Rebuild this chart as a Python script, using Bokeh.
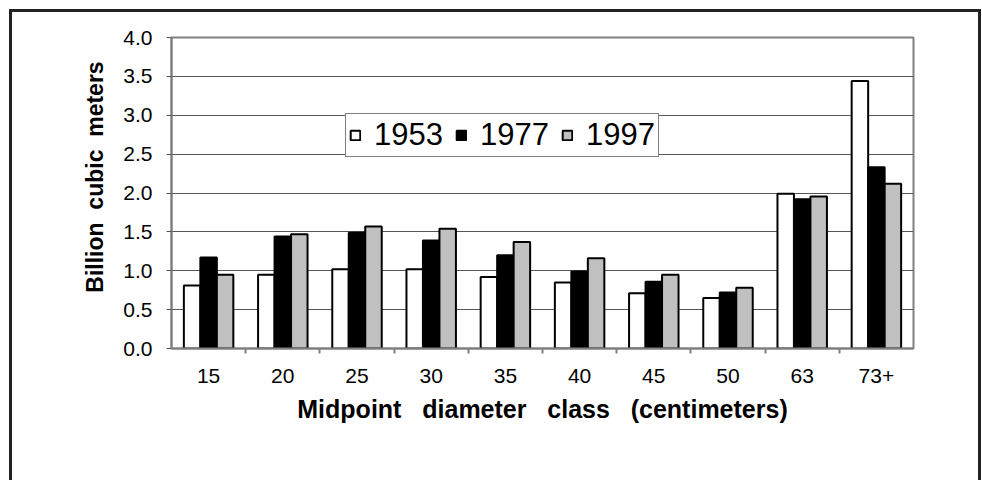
from bokeh.plotting import figure
from bokeh.models import (ColumnDataSource, FixedTicker, Legend, LegendItem, Range1d,
                          NumeralTickFormatter)
from bokeh.transform import dodge
from bokeh.embed import file_html
from bokeh.resources import INLINE

categories = ["15", "20", "25", "30", "35", "40", "45", "50", "63", "73+"]
v1953 = [0.81, 0.95, 1.02, 1.02, 0.92, 0.85, 0.71, 0.65, 1.99, 3.44]
v1977 = [1.17, 1.44, 1.49, 1.39, 1.20, 0.99, 0.86, 0.72, 1.92, 2.33]
v1997 = [0.95, 1.47, 1.57, 1.54, 1.37, 1.16, 0.95, 0.78, 1.955, 2.12]
years = ["1953", "1977", "1997"]
y_ticks = [0.0, 0.5, 1.0, 1.5, 2.0, 2.5, 3.0, 3.5, 4.0]

FONT = "Liberation Sans"
colors = ["white", "black", "#C0C0C0"]
NB = "\u00a0"
SP = " " + NB + NB

pos = [i + 0.5 for i in range(len(categories))]
bounds = [i for i in range(1, len(categories))]
source = ColumnDataSource(dict(pos=pos, cat=categories,
                               v1953=v1953, v1977=v1977, v1997=v1997))

# outer chart border drawn as CSS background lines behind a transparent canvas border
border_css = ("linear-gradient(#222222, #222222) 9px 9px / 3px 100% no-repeat, "
              "linear-gradient(#222222, #222222) 9px 9px / 972px 3px no-repeat, "
              "linear-gradient(#222222, #222222) 978px 9px / 3px 100% no-repeat, "
              "#ffffff")

p = figure(width=981, height=480,
           x_range=Range1d(0, len(categories)), y_range=Range1d(0, 4.0),
           toolbar_location=None, output_backend="svg",
           min_border_left=171, min_border_right=68,
           min_border_top=37, min_border_bottom=132,
           styles={"background": border_css})
p.background_fill_color = "white"
p.border_fill_color = None
p.border_fill_alpha = 0

w = 1 / 4.5
renderers = []
for yr, col, off in zip(years, colors, [-w, 0, w]):
    r = p.vbar(x=dodge("pos", off, range=p.x_range), top="v" + yr, width=w,
               source=source, fill_color=col, line_color="black", line_width=2)
    renderers.append(r)

legend = Legend(items=[LegendItem(label=yr, renderers=[r]) for yr, r in zip(years, renderers)],
                location=(174, 191), orientation="horizontal",
                glyph_width=12, glyph_height=12, label_standoff=13, spacing=12,
                padding=3, margin=0,
                label_text_font=FONT, label_text_font_size="31px",
                label_text_color="black",
                border_line_color="black", border_line_width=1,
                background_fill_color="white", background_fill_alpha=1)
p.add_layout(legend)

# x axis
xa = p.xaxis[0]
xa.ticker = FixedTicker(ticks=pos, minor_ticks=bounds)
xa.major_label_overrides = {x: c for x, c in zip(pos, categories)}
xa.major_tick_line_color = None
xa.major_tick_out = 0
xa.major_tick_in = 0
xa.minor_tick_out = 5
xa.minor_tick_in = 0
xa.minor_tick_line_color = "#808080"
xa.minor_tick_line_width = 2
xa.axis_line_color = "#808080"
xa.axis_line_width = 2
xa.major_label_text_font = FONT
xa.major_label_text_font_size = "21px"
xa.major_label_text_color = "black"
xa.major_label_standoff = 15
xa.axis_label = "Midpoint" + SP + "diameter" + SP + "class" + SP + "(centimeters)"
xa.axis_label_text_font = FONT
xa.axis_label_text_font_size = "25px"
xa.axis_label_text_font_style = "bold"
xa.axis_label_text_color = "black"
xa.axis_label_standoff = 9

# y axis
ya = p.yaxis[0]
ya.ticker = FixedTicker(ticks=y_ticks)
ya.formatter = NumeralTickFormatter(format="0.0")
ya.major_tick_out = 5
ya.major_tick_in = 0
ya.major_tick_line_color = "#555555"
ya.minor_tick_line_color = None
ya.axis_line_color = "#808080"
ya.axis_line_width = 2
ya.major_label_text_font = FONT
ya.major_label_text_font_size = "21px"
ya.major_label_text_color = "black"
ya.major_label_standoff = 14
ya.axis_label = NB * 5 + "Billion" + " " + NB + "cubic" + " " + NB + "meters"
ya.axis_label_text_font = FONT
ya.axis_label_text_font_size = "23px"
ya.axis_label_text_font_style = "bold"
ya.axis_label_text_color = "black"
ya.axis_label_standoff = 12

p.xgrid.grid_line_color = None
p.ygrid.ticker = FixedTicker(ticks=y_ticks)
p.ygrid.grid_line_color = "#555555"
p.ygrid.grid_line_width = 1
p.outline_line_color = "#808080"
p.outline_line_width = 2

open("out.html", "w").write(file_html(p, INLINE))
